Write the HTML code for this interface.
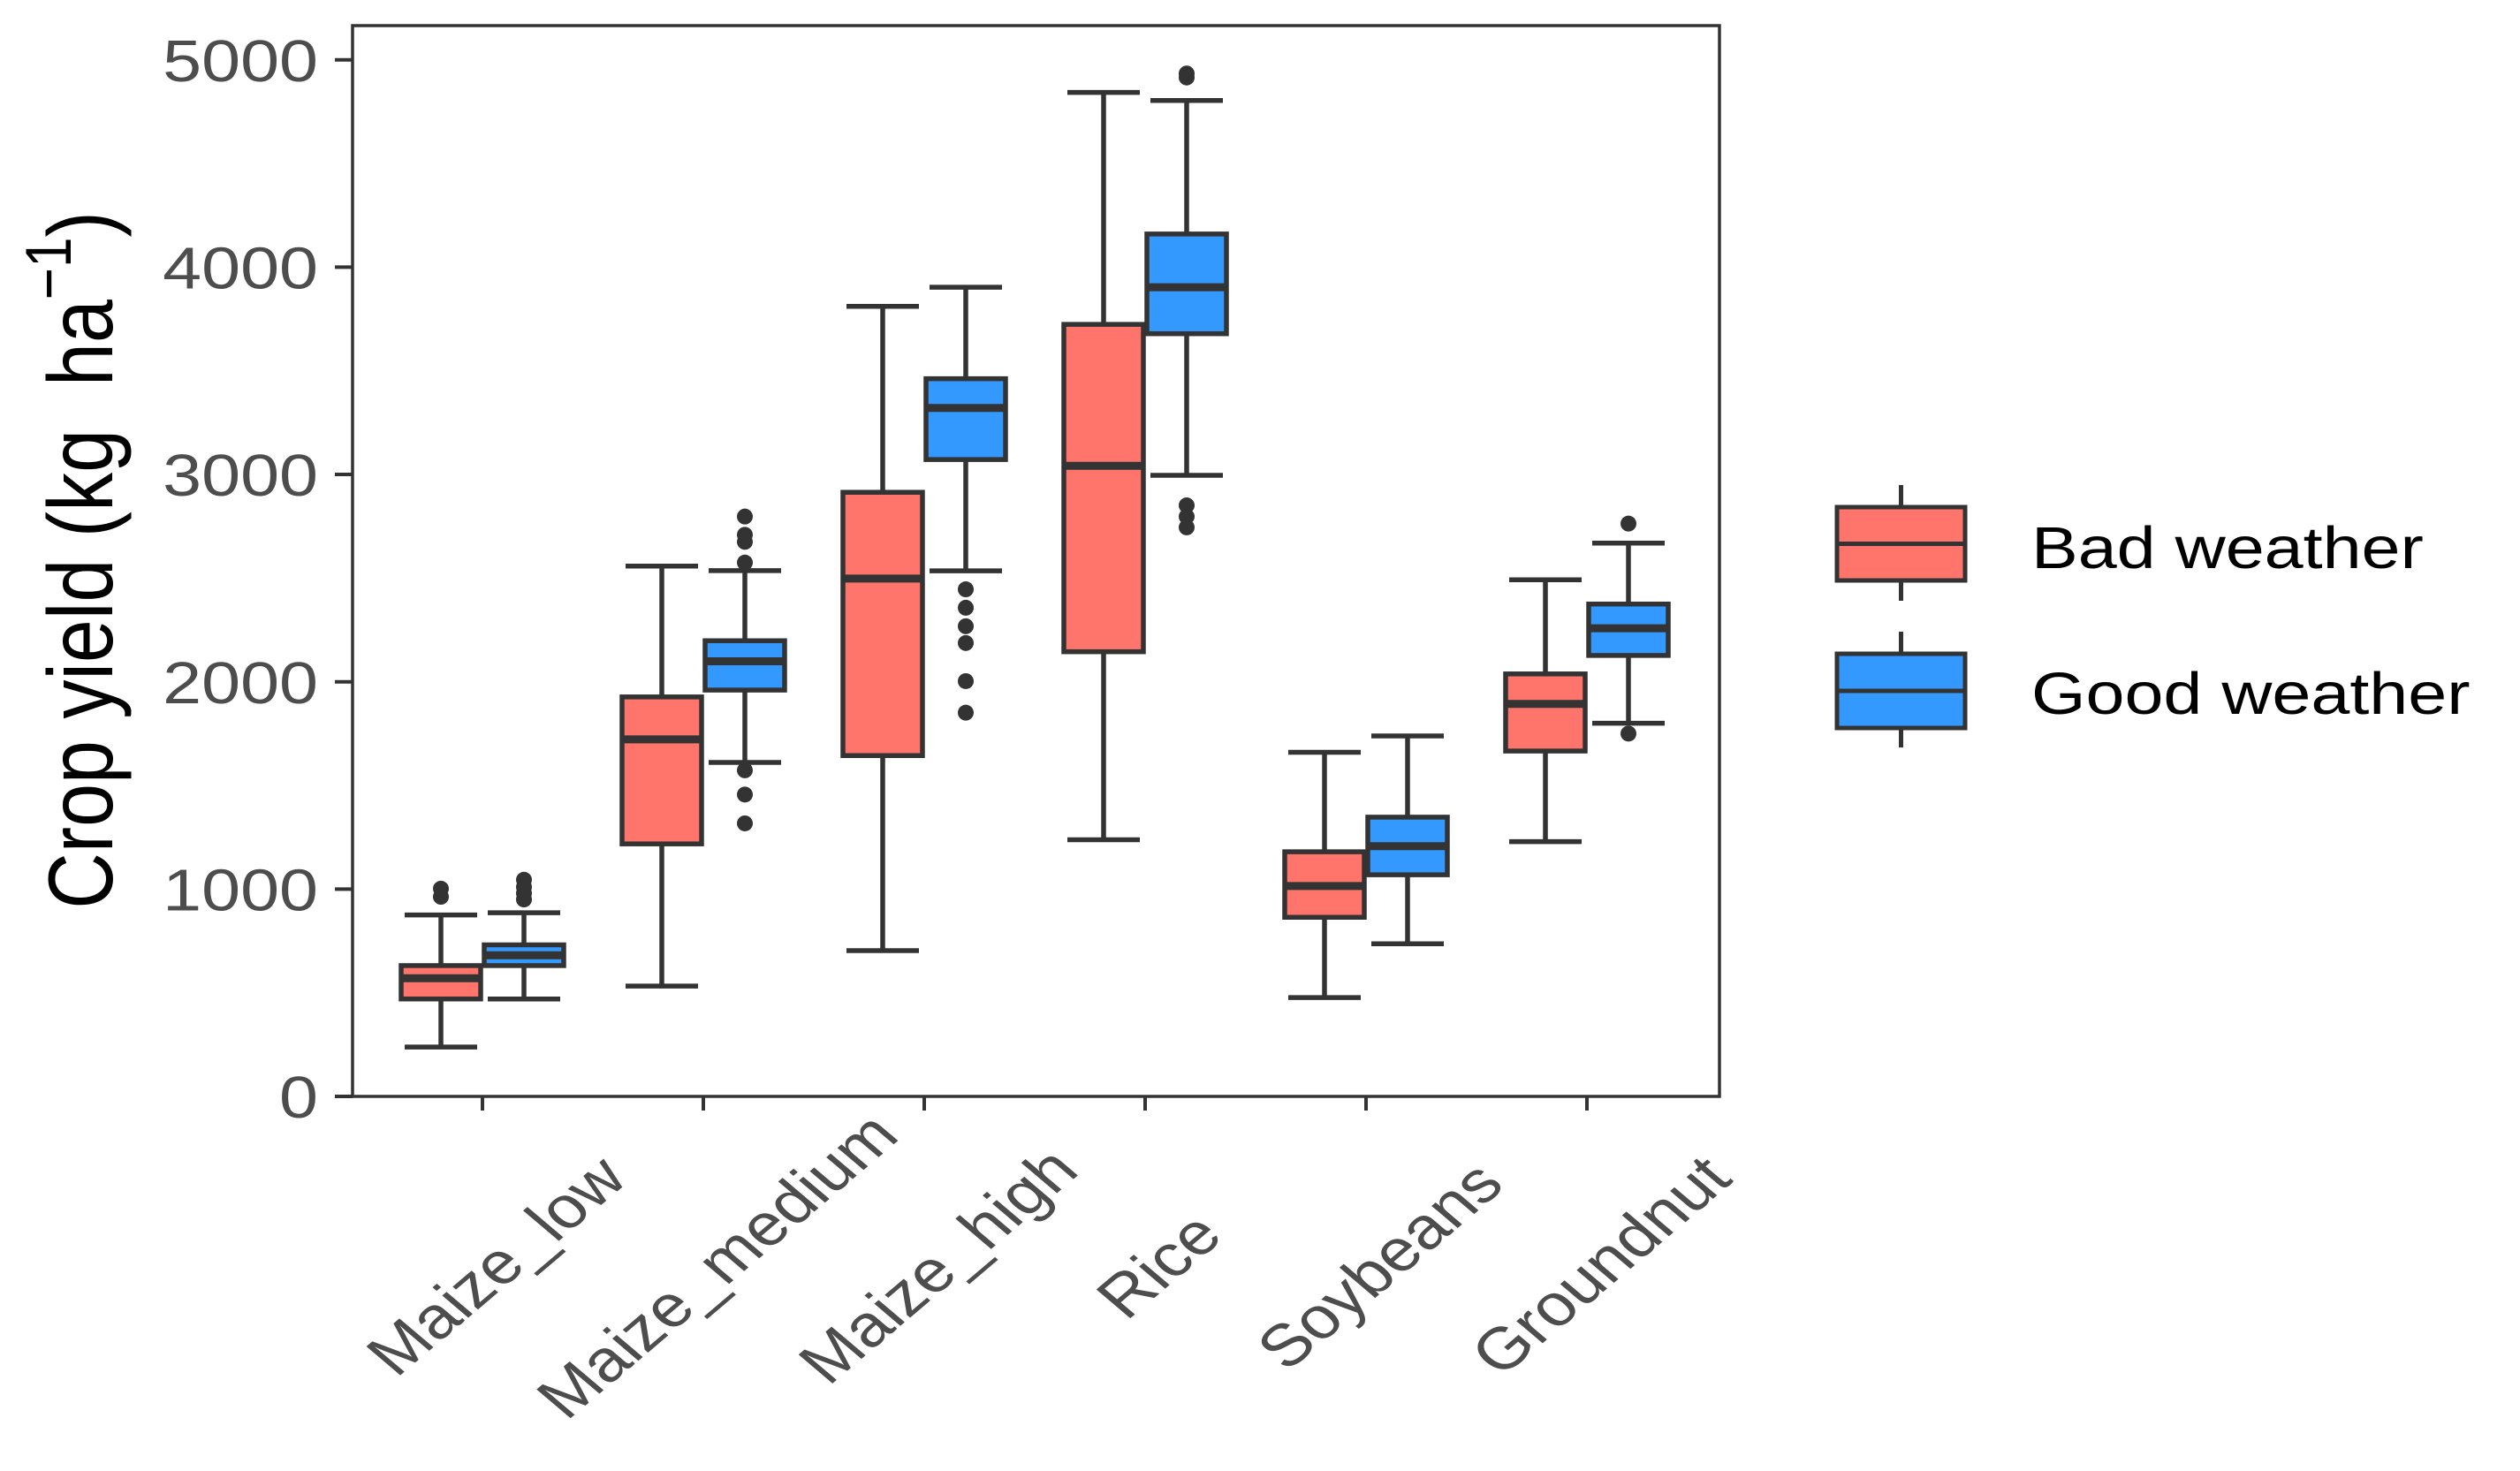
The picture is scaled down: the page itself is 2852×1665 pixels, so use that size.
<!DOCTYPE html>
<html><head><meta charset="utf-8"><style>
html,body{margin:0;padding:0;background:#fff;}
svg{display:block;}
text{font-family:"Liberation Sans",Arial,sans-serif;}
</style></head><body>
<svg id="chart" width="2852" height="1665" viewBox="0 0 2852 1665" xmlns="http://www.w3.org/2000/svg">
<rect x="0" y="0" width="2852" height="1665" fill="#fff"/>
<g id="marks"></g>
<rect x="399" y="29" width="1547" height="1212" fill="none" stroke="#333" stroke-width="3.5"/>
<g id="axes"></g>
<text transform="translate(127,634) scale(1.18,1) rotate(-90)" text-anchor="middle" font-size="88" fill="#000">Crop yield (kg&#160;&#160;ha<tspan font-size="62" dy="-40">−1</tspan><tspan dy="40">)</tspan></text>
<g>
  <line x1="2151.5" y1="549" x2="2151.5" y2="680" stroke="#333" stroke-width="5"/>
  <rect x="2079" y="574" width="145" height="83" fill="#FF756B" stroke="#333" stroke-width="5"/>
  <line x1="2079" y1="615.5" x2="2224" y2="615.5" stroke="#333" stroke-width="5"/>
  <text transform="translate(2299,643) scale(1.18,1)" font-size="67" fill="#000">Bad weather</text>
  <line x1="2151.5" y1="715" x2="2151.5" y2="846" stroke="#333" stroke-width="5"/>
  <rect x="2079" y="740" width="145" height="84" fill="#3399FF" stroke="#333" stroke-width="5"/>
  <line x1="2079" y1="782" x2="2224" y2="782" stroke="#333" stroke-width="5"/>
  <text transform="translate(2299,808) scale(1.18,1)" font-size="67" fill="#000">Good weather</text>
</g>
</svg>
<script>
const categories = ["Maize_low","Maize_medium","Maize_high","Rice","Soybeans","Groundnut"];
const yTicks = [0,1000,2000,3000,4000,5000];
const badLow  = [238, 532, 703, 1238, 477, 1229];
const badQ1   = [470, 1218, 1644, 2145, 864, 1666];
const badMed  = [570, 1722, 2498, 3042, 1015, 1893];
const badQ3   = [631, 1927, 2914, 3724, 1180, 2038];
const badHigh = [875, 2558, 3811, 4843, 1660, 2492];
const goodLow  = [470, 1611, 2535, 2996, 736, 1800];
const goodQ1   = [631, 1960, 3072, 3679, 1069, 2127];
const goodMed  = [681, 2099, 3321, 3903, 1207, 2258];
const goodQ3   = [731, 2198, 3462, 4160, 1347, 2375];
const goodHigh = [886, 2536, 3903, 4804, 1739, 2669];
const badOutliers = [[1002,963],[],[],[],[],[]];
const goodOutliers = [[1045,1010,980,950],[2797,2709,2675,2575,1573,1456,1317],[2446,2357,2268,2187,2003,1851],[4934,4915,2851,2797,2745],[],[2763,1750]];

const NS = "http://www.w3.org/2000/svg";
function yScale(v){ return 1241 - v*0.23465; }
function xScale(i){ return 546 + 250*i; }
const marks = document.getElementById('marks');
const axes = document.getElementById('axes');
function mk(tag, attrs, parent){
  const e = document.createElementNS(NS, tag);
  for (const k in attrs) e.setAttribute(k, attrs[k]);
  parent.appendChild(e);
  return e;
}
function drawBox(i, off, low, q1, med, q3, high, outs, fill, name){
  const cx = xScale(i) + off;
  const g = mk('g', {}, marks);
  
  
  const st = {stroke:'#333','stroke-width':5.5};
  mk('line', Object.assign({x1:cx,x2:cx,y1:yScale(high),y2:yScale(q3)}, st), g);
  mk('line', Object.assign({x1:cx,x2:cx,y1:yScale(q1),y2:yScale(low)}, st), g);
  mk('line', Object.assign({x1:cx-41,x2:cx+41,y1:yScale(high),y2:yScale(high)}, st), g);
  mk('line', Object.assign({x1:cx-41,x2:cx+41,y1:yScale(low),y2:yScale(low)}, st), g);
  mk('rect', {x:cx-45,y:yScale(q3),width:90,height:yScale(q1)-yScale(q3),fill:fill,stroke:'#333','stroke-width':5.5}, g);
  mk('line', {x1:cx-45,x2:cx+45,y1:yScale(med),y2:yScale(med),stroke:'#333','stroke-width':9}, g);
  outs.forEach(function(v){
    const c = mk('circle', {cx:cx,cy:yScale(v),r:9,fill:'#333'}, g);
    
    
  });
}
categories.forEach(function(c, i){
  drawBox(i, -47, badLow[i], badQ1[i], badMed[i], badQ3[i], badHigh[i], badOutliers[i], '#FF756B', 'bad');
  drawBox(i, 47, goodLow[i], goodQ1[i], goodMed[i], goodQ3[i], goodHigh[i], goodOutliers[i], '#3399FF', 'good');
  const x = xScale(i);
  const t = mk('line', {x1:x,x2:x,y1:1241,y2:1257,stroke:'#333','stroke-width':4}, axes);
  
  
  const lb = mk('text', {transform:'translate('+(x+15)+',1432) scale(1.18,1) rotate(-45)','text-anchor':'middle','font-size':67,fill:'#4d4d4d',dy:'0.35em'}, axes);
  lb.textContent = c;
  
  
});
yTicks.forEach(function(v){
  const y = yScale(v);
  const t = mk('line', {x1:379,x2:399,y1:y,y2:y,stroke:'#333','stroke-width':4}, axes);
  
  
  const lb = mk('text', {transform:'translate(360,'+y+') scale(1.18,1)','text-anchor':'end','font-size':67,fill:'#4d4d4d',dy:'0.36em'}, axes);
  lb.textContent = String(v);
  
  
});
</script>
</body></html>
